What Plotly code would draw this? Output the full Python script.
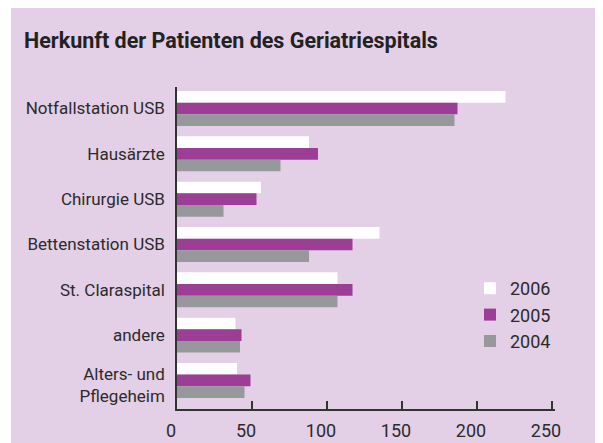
import plotly.graph_objects as go

categories = ["Notfallstation USB", "Hausärzte", "Chirurgie USB", "Bettenstation USB",
              "St. Claraspital", "andere", "Alters- und<br>Pflegeheim"]
years = ["2006", "2005", "2004"]
v2006 = [219, 88, 56, 135, 107, 39, 40]
v2005 = [187, 94, 53, 117, 117, 43, 49]
v2004 = [185, 69, 31, 88, 107, 42, 45]
x_ticks = [0, 50, 100, 150, 200, 250]
title = "Herkunft der Patienten des Geriatriespitals"

colors = ["#FFFFFF", "#9C3D96", "#97989C"]
FONT = "Roboto, 'Open Sans', sans-serif"
TXT = "#2b2b2b"

# page body adds an 8px offset; work in reference pixel coords and subtract it
OFF = 8
W, H = 603 - OFF, 443 - OFF
L, T = 177 - OFF, 87 - OFF
R = W - (555 - OFF)
B = H - (409 - OFF)
PW, PH = W - L - R, H - T - B

def px_x(p):
    return (p - OFF - L) / PW

def px_y(p):
    return (H - B - (p - OFF)) / PH

fig = go.Figure()
for name, vals, c in zip(years, [v2006, v2005, v2004], colors):
    fig.add_trace(go.Bar(
        y=categories, x=vals, name=name, orientation="h",
        marker=dict(color=c, line=dict(width=0)),
    ))

# label positions (category index); the two-line label sits a little lower
label_pos = [i + (0.11 if "<br>" in c else 0) for i, c in enumerate(categories)]

fig.update_layout(
    width=W, height=H,
    margin=dict(l=L, r=R, t=T, b=B, pad=0, autoexpand=False),
    paper_bgcolor="white",
    plot_bgcolor="rgba(0,0,0,0)",
    barmode="group", bargap=0.228, bargroupgap=0,
    font=dict(family=FONT, size=17, color=TXT),
    title=dict(text="<b>" + title + "</b>", xref="container", yref="container",
               x=(24 - OFF) / W, xanchor="left", y=1 - (40 - OFF) / H, yanchor="middle",
               font=dict(family=FONT, size=21.5, color="#222222")),
    showlegend=True,
    legend=dict(x=px_x(470), y=px_y(270), xanchor="left", yanchor="top",
                bgcolor="rgba(0,0,0,0)", font=dict(size=18, color=TXT),
                traceorder="normal"),
    shapes=[
        dict(type="rect", xref="paper", yref="paper", layer="below",
             x0=px_x(11), x1=px_x(601), y0=px_y(443), y1=px_y(7),
             fillcolor="#E3CFE6", line=dict(width=0)),
        dict(type="rect", xref="paper", yref="paper", layer="below",
             x0=px_x(601), x1=px_x(603), y0=px_y(443), y1=px_y(13),
             fillcolor="#9C3D96", line=dict(width=0)),
    ],
)

fig.update_xaxes(range=[0, 252], tickvals=x_ticks, ticktext=[str(t) for t in x_ticks],
                 automargin=False,
                 showgrid=False, zeroline=False, showline=True, linecolor="#333333",
                 linewidth=1.5, ticks="inside", ticklen=8, tickwidth=1.5, tickcolor="#333333",
                 ticklabelshift=-6, ticklabelstandoff=5, tickfont=dict(size=18, color=TXT))
fig.update_yaxes(type="category", categoryorder="array", categoryarray=categories,
                 automargin=False,
                 range=[6.63, -0.475], showgrid=False, zeroline=False, showline=True,
                 tickmode="array", tickvals=label_pos, ticktext=categories,
                 linecolor="#333333", linewidth=1.5, ticks="", ticklabelstandoff=7,
                 tickfont=dict(size=17, color=TXT))

fig.write_html("out.html")
